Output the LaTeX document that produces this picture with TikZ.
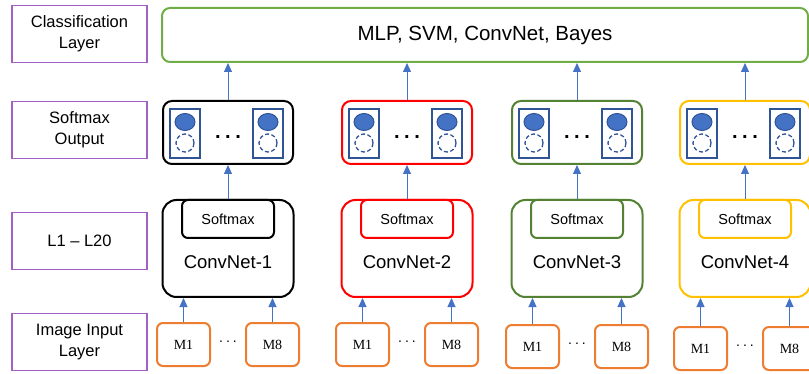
\documentclass[tikz,border=0pt]{standalone}
\usepackage{fontspec}
\setmainfont{Liberation Sans}
\newfontfamily\seriffont{Liberation Serif}
\usetikzlibrary{arrows.meta,positioning}

\definecolor{lyrpurple}{RGB}{160,96,200}
\definecolor{clsgreen}{RGB}{112,173,71}
\definecolor{netgreen}{RGB}{84,130,53}
\definecolor{netyellow}{RGB}{255,192,0}
\definecolor{inorange}{RGB}{237,125,49}
\definecolor{arrowblue}{RGB}{68,114,196}
\definecolor{unitblue}{RGB}{47,85,151}

\begin{document}
\begin{tikzpicture}[x=1pt, y=-1pt, every node/.style={align=center, inner sep=0pt}, layer/.style={draw=lyrpurple, line width=1.2pt, minimum width=135pt, minimum height=57pt, font=\fontsize{16.5}{21}\selectfont}, outbox/.style={rounded corners=9pt, line width=2pt, minimum width=130pt, minimum height=63pt}, netbox/.style={rounded corners=14pt, line width=2pt, minimum width=131pt, minimum height=97pt}, smbox/.style={rounded corners=6pt, line width=2pt, minimum width=92pt, minimum height=38pt, font=\fontsize{14.5}{16}\selectfont}, inbox/.style={draw=inorange, rounded corners=6pt, line width=2pt, minimum width=53pt, minimum height=43pt, font=\seriffont\fontsize{14}{16}\selectfont}, unitbox/.style={draw=unitblue, line width=2pt}, arrow/.style={-{Triangle[width=8pt,length=9pt]}, draw=arrowblue, line width=1pt}]
\useasboundingbox (0,0) rectangle (809,374);

% layer names on the left
\node[layer] (lcls) at (79.5,34) {Classification\\Layer};
\node[layer] (lsoft) at (79.5,130) {Softmax\\Output};
\node[layer] (lconv) at (79.5,241) {L1 – L20};
\node[layer] (linput) at (79.5,342) {Image Input\\Layer};

% classifier on top
\node[draw=clsgreen, line width=2pt, rounded corners=8pt, minimum width=646pt, minimum height=54pt, font=\fontsize{20.5}{24}\selectfont] (cls) at (485,35) {MLP, SVM, ConvNet, Bayes};

% one column per ConvNet
\foreach \i/\x/\c/\dy in {1/163/black/0, 2/342/red/0, 3/512/netgreen/2, 4/680/netyellow/4} {
  \node[outbox, draw=\c] (out\i) at (\x+65,132.5) {};
  \foreach \u in {7,90} {
    \draw[unitbox] (\x+\u,109) rectangle (\x+\u+30,158);
    \filldraw[fill=arrowblue, draw=unitblue, line width=1pt] (\x+\u+15,122) ellipse (10pt and 8.5pt);
    \draw[unitblue, line width=1.3pt, dash pattern=on 4pt off 2.5pt] (\x+\u+15,143) circle (9pt);
  }
  \node[font=\fontsize{20}{20}\selectfont\bfseries] (odots\i) at (\x+65,137) {.\hspace{4.5pt}.\hspace{4.5pt}.};

  \node[netbox, draw=\c] (conv\i) at (\x+65,248.5) {};
  \node[smbox, draw=\c] (sm\i) at (\x+65,219) {Softmax};
  \node[font=\fontsize{18.5}{20}\selectfont] (name\i) at (\x+65,262) {ConvNet-\i};

  \node[inbox] (ma\i) at (\x+20.5,344.5+\dy) {M1};
  \node[inbox] (mb\i) at (\x+109.5,344.5+\dy) {M8};
  \node[font=\fontsize{14}{14}\selectfont] (mdots\i) at (\x+65,342+\dy) {.\hspace{3pt}.\hspace{3pt}.};

  \draw[arrow] (ma\i.north) -- (ma\i.north |- conv\i.south);
  \draw[arrow] (mb\i.north) -- (mb\i.north |- conv\i.south);
  \draw[arrow] (conv\i.north) -- (out\i.south);
  \draw[arrow] (out\i.north) -- (out\i.north |- cls.south);
}
\end{tikzpicture}
\end{document}
